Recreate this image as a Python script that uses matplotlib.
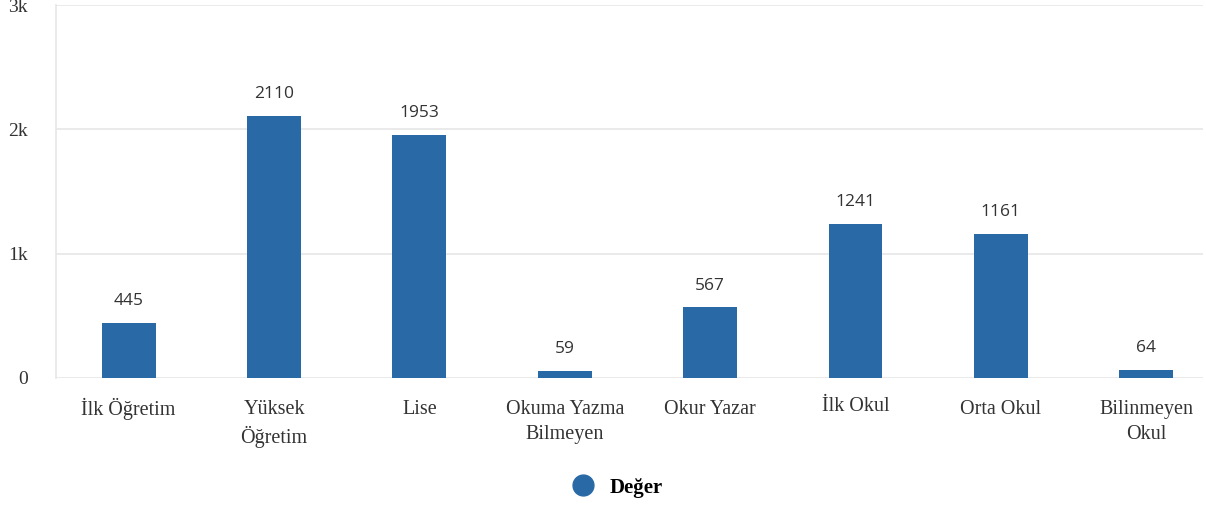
import matplotlib.pyplot as plt
from matplotlib.lines import Line2D

# Veriler
kategoriler = ["İlk Öğretim", "Yüksek\nÖğretim", "Lise", "Okuma Yazma\nBilmeyen",
               "Okur Yazar", "İlk Okul", "Orta Okul", "Bilinmeyen\nOkul"]
degerler = [445, 2110, 1953, 59, 567, 1241, 1161, 64]
y_ticks = [0, 1000, 2000, 3000]
y_labels = ["0", "1k", "2k", "3k"]

renk = "#2869a6"

fig = plt.figure(figsize=(12.06, 5.08), dpi=100)
ax = fig.add_axes([0.0464, 0.256, 0.951, 0.734])

x = range(len(kategoriler))
ax.bar(x, degerler, width=0.37, color=renk, zorder=3)

# Değer etiketleri
for i, v in enumerate(degerler):
    ax.annotate(str(v), (i, v), xytext=(0, 10), textcoords="offset points",
                ha="center", va="bottom", fontsize=12.5, color="#333333",
                family="Open Sans", weight="medium")

ax.set_xlim(-0.5, 7.39)
ax.set_ylim(0, 3000)
ax.set_yticks(y_ticks)
ax.set_yticklabels(y_labels, family="Liberation Serif", fontsize=14, color="#333333")
ax.set_xticks(list(x))
ax.set_xticklabels([])

# Kategori etiketleri (İ harfli olanlar biraz yukarıda, hepsi aynı hizada dursun)
for i, k in enumerate(kategoriler):
    dy = -14 if k.startswith("İ") else -16
    ax.annotate(k, (i, 0), xycoords=ax.get_xaxis_transform(), xytext=(0, dy),
                textcoords="offset points", ha="center", va="top",
                family="Liberation Serif", fontsize=14.5, color="#333333",
                linespacing=1.4)

ax.grid(axis="y", color="#e6e6e6", linewidth=1.2, zorder=0)
ax.tick_params(axis="both", length=0)
ax.tick_params(axis="y", pad=20)
for s in ["top", "right", "bottom"]:
    ax.spines[s].set_visible(False)
ax.spines["left"].set_color("#e6e6e6")
ax.spines["left"].set_linewidth(1.2)

# Lejant
h = Line2D([], [], marker="o", linestyle="", markersize=15, color=renk)
fig.legend([h], ["Değer"], loc="center", bbox_to_anchor=(0.508, 0.04),
           frameon=False, handletextpad=0.3,
           prop={"family": "Liberation Serif", "weight": "bold", "size": 15})

fig.savefig("out.png", dpi=100)
